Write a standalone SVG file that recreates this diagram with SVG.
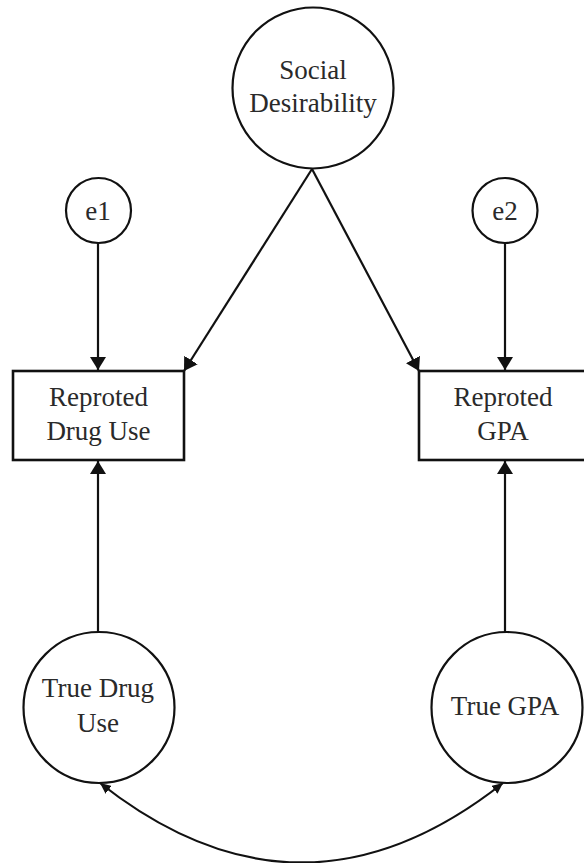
<svg xmlns="http://www.w3.org/2000/svg" width="584" height="863" viewBox="0 0 584 863">
  <style>
    .bg { fill: #ffffff; }
    .node { fill: #ffffff; stroke: #111111; stroke-width: 2.2; }
    .box { fill: #ffffff; stroke: #111111; stroke-width: 2.6; }
    .edge { fill: none; stroke: #111111; stroke-width: 2.2; }
    .label { font-family: "Liberation Serif", "Times New Roman", serif; font-size: 27px; fill: #2a2a2a; text-anchor: middle; }
  </style>
  <defs>
    <marker id="arrow" markerUnits="userSpaceOnUse" markerWidth="14" markerHeight="16" refX="13" refY="8" orient="auto">
      <path d="M0,0 L13,8 L0,16 z" fill="#111111"/>
    </marker>
    <marker id="arrowSmall" markerUnits="userSpaceOnUse" markerWidth="12" markerHeight="10" refX="11" refY="5" orient="auto-start-reverse">
      <path d="M0,0 L11,5 L0,10 z" fill="#111111"/>
    </marker>
  </defs>

  <rect class="bg" x="0" y="0" width="584" height="863"/>

  <g id="connectors">
    <line class="edge" x1="312" y1="169" x2="184" y2="371" marker-end="url(#arrow)"/>
    <line class="edge" x1="312" y1="169" x2="419" y2="371" marker-end="url(#arrow)"/>
    <line class="edge" x1="98" y1="243" x2="98" y2="370" marker-end="url(#arrow)"/>
    <line class="edge" x1="505" y1="243" x2="505" y2="370" marker-end="url(#arrow)"/>
    <line class="edge" x1="98" y1="632" x2="98" y2="461" marker-end="url(#arrow)"/>
    <line class="edge" x1="505" y1="632" x2="505" y2="461" marker-end="url(#arrow)"/>
    <path class="edge" d="M100,783 Q301.5,942 503,783" marker-start="url(#arrowSmall)" marker-end="url(#arrowSmall)"/>
  </g>

  <g id="social-desirability">
    <circle class="node" cx="313" cy="88" r="80.5"/>
    <text class="label" x="313" y="79">Social</text>
    <text class="label" x="313" y="112">Desirability</text>
  </g>

  <g id="e1">
    <circle class="node" cx="98.5" cy="210.5" r="32.5"/>
    <text class="label" x="98" y="220">e1</text>
  </g>

  <g id="e2">
    <circle class="node" cx="505" cy="210.5" r="32.5"/>
    <text class="label" x="505" y="220">e2</text>
  </g>

  <g id="reported-drug-use">
    <rect class="box" x="13" y="371" width="171" height="89"/>
    <text class="label" x="98.5" y="406">Reproted</text>
    <text class="label" x="98.5" y="440">Drug Use</text>
  </g>

  <g id="reported-gpa">
    <rect class="box" x="419" y="371" width="171" height="89"/>
    <text class="label" x="503" y="406">Reproted</text>
    <text class="label" x="503" y="440">GPA</text>
  </g>

  <g id="true-drug-use">
    <circle class="node" cx="99" cy="707.5" r="75.5"/>
    <text class="label" x="98" y="697">True Drug</text>
    <text class="label" x="98" y="732">Use</text>
  </g>

  <g id="true-gpa">
    <circle class="node" cx="507" cy="707.5" r="75.5"/>
    <text class="label" x="505" y="715">True GPA</text>
  </g>
</svg>
